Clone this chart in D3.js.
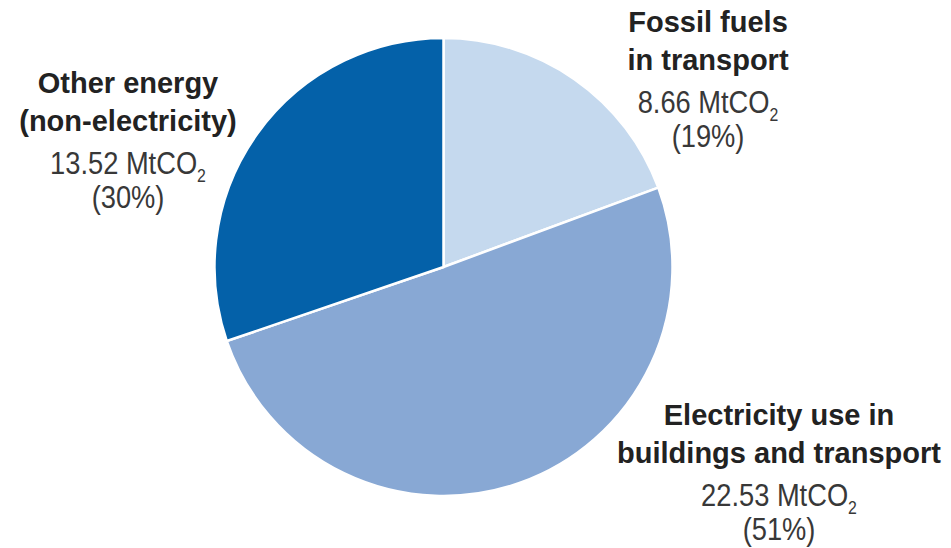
<!DOCTYPE html>
<html>
<head>
<meta charset="utf-8">
<script src="https://cdn.jsdelivr.net/npm/d3@7"></script>
<style>
  body { margin: 0; background: #fff; }
  .bold { font-family: "Liberation Sans", Arial, sans-serif; font-weight: bold; font-size: 29px; fill: #222; }
  .reg { font-family: "Liberation Sans", Arial, sans-serif; font-size: 31px; fill: #383838; }
</style>
</head>
<body>
<div id="root"></div>
<script>
// data
var names = ["Fossil fuels in transport", "Electricity use in buildings and transport", "Other energy (non-electricity)"];
var titleLines = [["Fossil fuels", "in transport"], ["Electricity use in", "buildings and transport"], ["Other energy", "(non-electricity)"]];
var values = [8.66, 22.53, 13.52];
var shares = ["19%", "51%", "30%"];
var colors = ["#c5d9ee", "#88a8d4", "#0461a9"];

// layout
var w = 951, h = 548;
var cx = 443.5, cy = 267, r = 229;
// label anchor (center x, first baseline)
var labelPos = [[708, 32], [779, 425], [128, 93]];
var lineOffsets = [0, 38, 81, 115];

var svg = d3.select("#root").append("svg").attr("width", w).attr("height", h);

var pie = d3.pie().sort(null).value(function(d) { return d; });
var arc = d3.arc().innerRadius(0).outerRadius(r);

var g = svg.append("g").attr("transform", "translate(" + cx + "," + cy + ")");
g.selectAll("path").data(pie(values)).enter().append("path")
  .attr("d", arc)
  .style("fill", function(d, i) { return colors[i]; })
  .style("stroke", "#fff").style("stroke-width", 2.5);

// labels
var labels = svg.selectAll("g.label").data(values).enter().append("g").attr("class", "label")
  .attr("transform", function(d, i) { return "translate(" + labelPos[i][0] + "," + labelPos[i][1] + ")"; });

labels.each(function(d, i) {
  var lab = d3.select(this);
  titleLines[i].forEach(function(t, j) {
    lab.append("text").attr("class", "bold").attr("text-anchor", "middle").attr("y", lineOffsets[j]).text(t);
  });
  // the value lines use a narrower face in the original, squeeze a bit
  var v = lab.append("text").attr("class", "reg").attr("text-anchor", "middle")
    .attr("transform", "translate(0," + lineOffsets[2] + ") scale(0.88,1)");
  v.append("tspan").text(d3.format(".2f")(d) + " MtCO");
  v.append("tspan").attr("dy", 8).style("font-size", "18px").text("2");
  lab.append("text").attr("class", "reg").attr("text-anchor", "middle")
    .attr("transform", "translate(0," + lineOffsets[3] + ") scale(0.88,1)")
    .text("(" + shares[i] + ")");
});
</script>
</body>
</html>
